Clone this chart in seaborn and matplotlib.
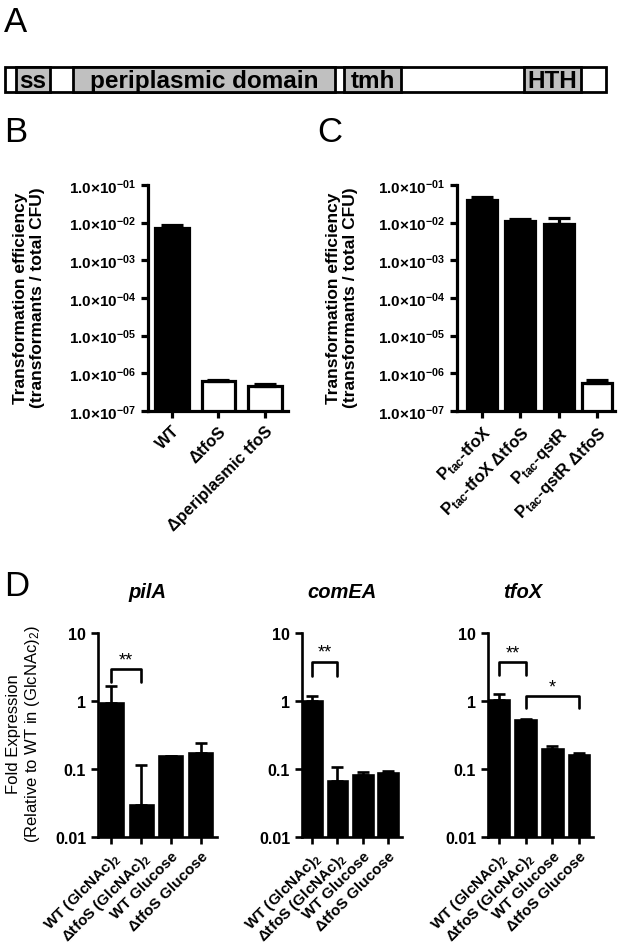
import matplotlib.pyplot as plt
import matplotlib.transforms as mtransforms
import numpy as np
import seaborn as sns
from matplotlib.ticker import NullLocator

sns.set_style("ticks")
plt.rcParams['font.family'] = ['Liberation Sans', 'DejaVu Sans']
plt.rcParams['mathtext.fontset'] = 'custom'
plt.rcParams['mathtext.rm'] = 'Liberation Sans'
plt.rcParams['mathtext.it'] = 'Liberation Sans:italic'
plt.rcParams['mathtext.bf'] = 'Liberation Sans:bold'
for k in ('text.color', 'axes.labelcolor', 'xtick.color', 'ytick.color', 'axes.edgecolor'):
    plt.rcParams[k] = 'black'

# ---- A: domain map of TfoS
prot_len = 601
dom_names = ["ss", "periplasmic domain", "tmh", "HTH"]
dom_start = [11, 68, 339, 519]
dom_end = [45, 330, 396, 576]

# ---- B: transformation efficiency
b_strains = ["WT", "ΔtfoS", "Δperiplasmic tfoS"]
b_eff = [7.2e-3, 6.2e-7, 4.7e-7]
b_err = [8.5e-3, 6.7e-7, 5.2e-7]      # top of error bar
b_fill = ["black", "white", "white"]

# ---- C: transformation efficiency
c_strains = [r"P$_{\mathbf{tac}}$-tfoX", r"P$_{\mathbf{tac}}$-tfoX ΔtfoS",
             r"P$_{\mathbf{tac}}$-qstR", r"P$_{\mathbf{tac}}$-qstR ΔtfoS"]
c_eff = [4.1e-2, 1.1e-2, 9.4e-3, 5.7e-7]
c_err = [4.8e-2, 1.22e-2, 1.35e-2, 6.7e-7]
c_fill = ["black", "black", "black", "white"]
eff_ticks = [1e-1, 1e-2, 1e-3, 1e-4, 1e-5, 1e-6, 1e-7]
eff_labels = [r"1.0×10$^{\mathbf{-0%d}}$" % k for k in range(1, 8)]

# ---- D: fold expression
conds = [r"WT (GlcNAc)$_\mathbf{2}$", r"ΔtfoS (GlcNAc)$_\mathbf{2}$",
         "WT Glucose", "ΔtfoS Glucose"]
genes = ["pilA", "comEA", "tfoX"]
fold = {
    "pilA": [0.95, 0.030, 0.153, 0.172],
    "comEA": [1.0, 0.066, 0.082, 0.087],
    "tfoX": [1.02, 0.53, 0.195, 0.163],
}
fold_err = {
    "pilA": [1.67, 0.116, 0.153, 0.245],
    "comEA": [1.2, 0.108, 0.089, 0.095],
    "tfoX": [1.28, 0.54, 0.217, 0.17],
}
fold_ticks = [0.01, 0.1, 1, 10]
fold_labels = ["0.01", "0.1", "1", "10"]
sig_pairs = {"pilA": [(0, 1, "**")], "comEA": [(0, 1, "**")],
             "tfoX": [(0, 1, "**"), (1, 3, "*")]}

W, H = 620, 945
fig = plt.figure(figsize=(W / 100, H / 100), dpi=100)


def box(x0, y0, x1, y1):
    return [x0 / W, 1 - y1 / H, (x1 - x0) / W, (y1 - y0) / H]


def ftext(x, y, s, **kw):
    fig.text(x / W, 1 - y / H, s, **kw)


# panel letters
for letter, (x, y) in zip("ABCD", [(4, 22), (4, 133), (317, 133), (4, 587)]):
    ftext(x, y, letter, fontsize=25, ha='left', va='center')

# ---- A
axA = fig.add_axes(box(5, 68, 606, 93))
outer = axA.barh(0, prot_len, height=1, color='white', edgecolor='black', linewidth=2)
doms = axA.barh(0, np.subtract(dom_end, dom_start), left=dom_start, height=1,
                color='#c0c0c0', edgecolor='black', linewidth=2)
for p in list(outer) + list(doms):
    p.set_clip_on(False)
for n, s, e in zip(dom_names, dom_start, dom_end):
    axA.text((s + e) / 2, -0.03, n, ha='center', va='center', fontweight='bold', fontsize=17.5)
axA.set_xlim(0, prot_len)
axA.set_ylim(-0.5, 0.5)
axA.axis('off')


def style(ax, lw):
    sns.despine(ax=ax)
    for sp in ("left", "bottom"):
        ax.spines[sp].set_linewidth(lw)
    ax.tick_params(width=lw, length=5, color='black')
    ax.yaxis.set_minor_locator(NullLocator())


def bars(ax, labels, vals, tops, fills, width, lw, cap):
    sns.barplot(x=labels, y=vals, hue=labels, palette=fills, legend=False,
                edgecolor='black', linewidth=lw, width=width, saturation=1, ax=ax)
    ax.set_yscale('log')
    n = len(vals)
    ax.errorbar(np.arange(n), vals, yerr=[np.zeros(n), np.subtract(tops, vals)],
                fmt='none', ecolor='black', elinewidth=lw, capsize=cap, capthick=lw)


# ---- B
axB = fig.add_axes(box(148, 186, 288, 412))
bars(axB, b_strains, b_eff, b_err, b_fill, 0.72, 2.3, 8)
axB.set_ylim(1e-7, 1e-1)
axB.set_xlim(-0.52, 2.5)
style(axB, 2.3)
axB.set_yticks(eff_ticks, eff_labels, fontweight='bold', fontsize=11)
axB.set_xticks(range(3), b_strains, rotation=45, ha='right', rotation_mode='anchor',
               fontweight='bold', fontsize=12)
axB.set_ylabel("")
ftext(29, 298, "Transformation efficiency\n(transformants / total CFU)", rotation=90,
      ha='center', va='center', fontweight='bold', fontsize=12.5, linespacing=1.2)

# ---- C
axC = fig.add_axes(box(457, 186, 615, 412))
bars(axC, c_strains, c_eff, c_err, c_fill, 0.78, 2.3, 8)
axC.set_ylim(1e-7, 1e-1)
axC.set_xlim(-0.65, 3.47)
style(axC, 2.3)
axC.set_yticks(eff_ticks, eff_labels, fontweight='bold', fontsize=11)
axC.set_xticks(range(4), c_strains, rotation=45, ha='right', rotation_mode='anchor',
               fontweight='bold', fontsize=12)
axC.set_ylabel("")
ftext(342, 298, "Transformation efficiency\n(transformants / total CFU)", rotation=90,
      ha='center', va='center', fontweight='bold', fontsize=12.5, linespacing=1.2)

# ---- D
d_boxes = {"pilA": (98, 217, -0.45, 3.55), "comEA": (302, 402, -0.4, 3.55),
           "tfoX": (488, 593, -0.41, 3.52)}
title_x = {"pilA": 147, "comEA": 342, "tfoX": 523}
bracket_y = {("pilA", 0): (0.823, 0.762, 0.87), ("comEA", 0): (0.859, 0.79, 0.905),
             ("tfoX", 0): (0.859, 0.794, 0.90), ("tfoX", 1): (0.692, 0.632, 0.735)}
for g in genes:
    x0, x1, lo, hi = d_boxes[g]
    ax = fig.add_axes(box(x0, 634, x1, 838))
    bars(ax, conds, fold[g], fold_err[g], ["black"] * 4, 0.77, 1.9, 4)
    ax.set_ylim(0.01, 10)
    ax.set_xlim(lo, hi)
    style(ax, 1.9)
    ax.set_yticks(fold_ticks, fold_labels, fontweight='bold', fontsize=11.5)
    ax.set_xticks(range(4), conds, rotation=45, ha='right', rotation_mode='anchor',
                  fontweight='bold', fontsize=11)
    ax.set_ylabel("")
    ftext(title_x[g], 592, g, ha='center', va='center', fontweight='bold',
          fontstyle='italic', fontsize=14.5)
    tr = mtransforms.blended_transform_factory(ax.transData, ax.transAxes)
    for a, b, lab in sig_pairs[g]:
        top, leg, ty = bracket_y[(g, a)]
        ax.plot([a, a, b, b], [leg, top, top, leg], color='black', lw=1.9,
                transform=tr, clip_on=False)
        ax.text((a + b) / 2, ty, lab, ha='center', va='center', fontsize=13,
                transform=tr)

ftext(24, 734, "Fold Expression\n(Relative to WT in (GlcNAc)$_2$)", rotation=90,
      ha='center', va='center', fontsize=12, linespacing=1.15)

fig.savefig("out.png", dpi=100)
